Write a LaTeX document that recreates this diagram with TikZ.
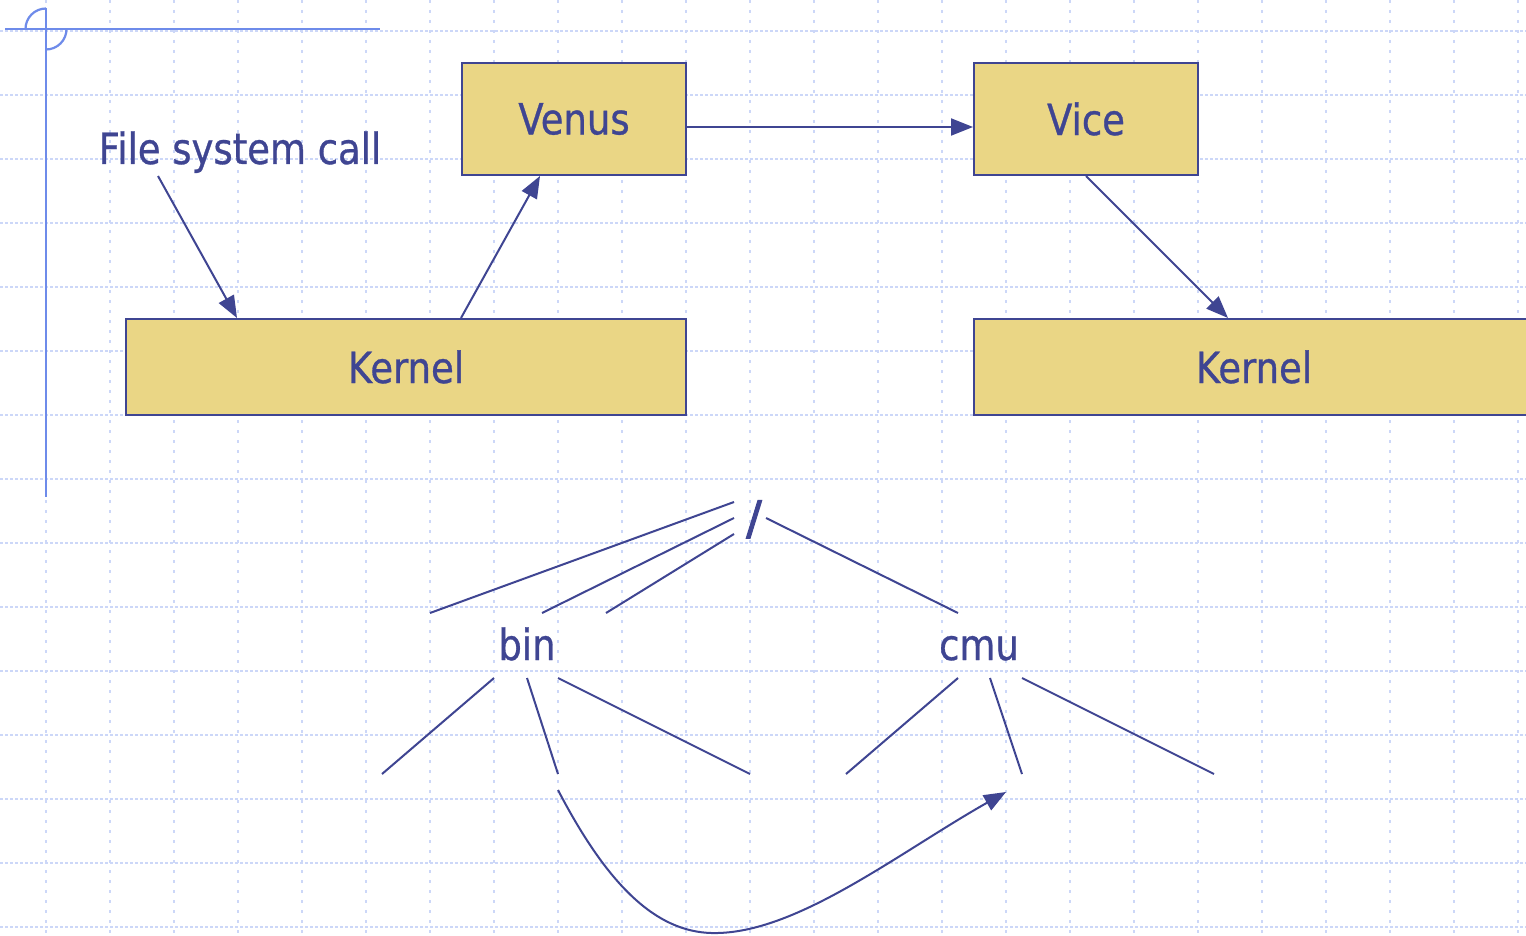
\documentclass[tikz,border=0pt]{standalone}
\usepackage{fontspec}
\setmainfont{DejaVu Sans}[FakeStretch=0.86,FakeBold=0.7]
\newfontfamily\slashfont{DejaVu Sans}[FakeBold=2.2]
\usetikzlibrary{arrows.meta,calc}
\definecolor{ink}{HTML}{3F4592}
\definecolor{boxfill}{HTML}{EAD685}
\definecolor{gridc}{HTML}{CCD7F8}
\definecolor{crossc}{HTML}{6E8BEA}
\tikzset{
  gridh/.style={gridc,line width=1.4pt,dash pattern=on 3pt off 2pt},
  gridv/.style={gridc,line width=1.4pt,dash pattern=on 3pt off 7pt},
  crossline/.style={crossc,line width=2.2pt},
  boxnode/.style={draw=ink,fill=boxfill,line width=2pt,text=ink,
    font=\fontsize{43pt}{50pt}\selectfont,inner sep=0pt},
  label/.style={text=ink,font=\fontsize{43pt}{50pt}\selectfont,inner sep=0pt,anchor=base},
  conn/.style={ink,line width=2pt},
  arr/.style={conn,-{Triangle[length=22pt,width=17pt]}}
}
\begin{document}
\begin{tikzpicture}[x=1pt,y=-1pt]
\useasboundingbox (0,0) rectangle (1526,936);
\clip (0,0) rectangle (1526,936);
\fill[white] (0,0) rectangle (1526,936);
% dotted background grid
\foreach \k in {0,...,23}
  \draw[gridv] ({46+64*\k},0) -- ({46+64*\k},936);
\foreach \k in {0,...,14}
  \draw[gridh] (0,{31+64*\k}) -- (1526,{31+64*\k});
% corner cross mark
\draw[crossline] (5,29) -- (380,29);
\draw[crossline] (46,8) -- (46,497);
\draw[crossline] (46,8.5) arc[start angle=270,end angle=180,radius=20.5];
\draw[crossline] (66.5,29) arc[start angle=0,end angle=90,radius=20.5];
% boxes
\node[boxnode,minimum width=224pt,minimum height=112pt] (venus) at (574,119) {Venus};
\node[boxnode,minimum width=224pt,minimum height=112pt] (vice) at (1086,119) {Vice};
\node[boxnode,minimum width=560pt,minimum height=96pt] (kl) at (406,367) {Kernel};
\node[boxnode,minimum width=560pt,minimum height=96pt] (kr) at (1254,367) {Kernel};
\node[label] (fsc) at (240,164) {File system call};
% arrows between the boxes
\coordinate (fscfoot) at (158,176);
\draw[arr] (fscfoot) -- ([xshift=112pt]kl.north west);
\draw[arr] ([xshift=336pt]kl.north west) -- ([xshift=79pt]venus.south west);
\draw[arr] ([yshift=-8pt]venus.east) -- ([yshift=-8pt]vice.west);
\draw[arr] (vice.south) -- ([xshift=255pt]kr.north west);
% directory tree
\node[label,font=\slashfont\fontsize{46pt}{50pt}\selectfont] (root) at (754,534) {/};
\node[label] (bin) at (527,660) {bin};
\node[label] (cmu) at (979,660) {cmu};
\draw[conn] ($(root.base)+(-20,-32)$) -- ($(bin.base)+(-97,-47)$);
\draw[conn] ($(root.base)+(-20,-16)$) -- ($(bin.base)+(15,-47)$);
\draw[conn] ($(root.base)+(-20,0)$) -- ($(bin.base)+(79,-47)$);
\draw[conn] ($(root.base)+(12,-16)$) -- ($(cmu.base)+(-21,-47)$);
\coordinate (b1) at (382,774);
\coordinate (b2) at (558,774);
\coordinate (b3) at (750,774);
\coordinate (c1) at (846,774);
\coordinate (c2) at (1022,774);
\coordinate (c3) at (1214,774);
\draw[conn] ($(bin.base)+(-33,18)$) -- (b1);
\draw[conn] ($(bin.base)+(0,18)$) -- (b2);
\draw[conn] ($(bin.base)+(31,18)$) -- (b3);
\draw[conn] ($(cmu.base)+(-21,18)$) -- (c1);
\draw[conn] ($(cmu.base)+(11,18)$) -- (c2);
\draw[conn] ($(cmu.base)+(43,18)$) -- (c3);
% link from bin's subtree over to cmu's
\coordinate (ls) at (558,790);
\coordinate (lb) at (718,933);
\coordinate (le) at (1006,792);
\draw[arr] (ls) .. controls (610,890) and (660,935) .. (lb)
               .. controls (800,931) and (900,852) .. (le);
\end{tikzpicture}
\end{document}
